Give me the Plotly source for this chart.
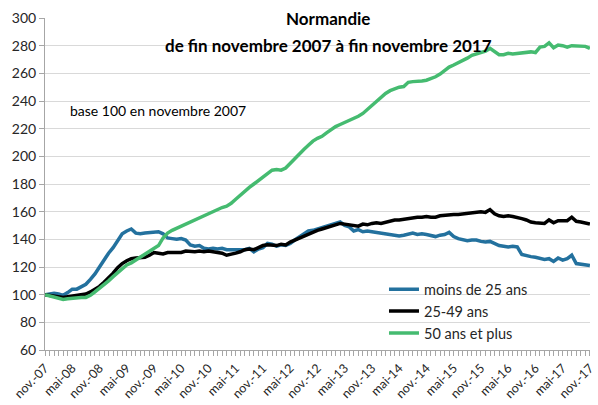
import plotly.graph_objects as go

MOIS = ["janv.", "févr.", "mars", "avr.", "mai", "juin", "juil.", "août", "sept.", "oct.", "nov.", "déc."]
months = []
for k in range(121):
    m = (10 + k) % 12
    y = 7 + (10 + k) // 12
    months.append(f"{MOIS[m]}-{y:02d}")

moins_25 = [100, 100.5, 101, 100.5, 99.5, 101.5, 104, 104, 105.5, 107.5,
            111, 115, 120, 125.5, 130, 134, 139, 144, 146, 147.5,
            144.5, 144, 144.5, 145, 145.5, 145.5, 144, 141, 140.5, 140,
            140.5, 139.5, 136, 135, 135.5, 133.5, 133, 133.5, 133, 133.5,
            132.5, 132.5, 133, 132.5, 132.5, 133.5, 131, 133, 134, 137,
            136.5, 135, 136, 135.5, 137, 139.5, 141.5, 143.5, 146, 146.5,
            147.5, 148.5, 149, 150, 151, 152.5, 150, 149, 146, 147,
            145.5, 146, 145.5, 145, 145, 144.5, 143.5, 143, 142.5, 143,
            143.5, 144.5, 143.5, 144, 143.5, 142.5, 142, 143, 143.5, 145,
            142, 140.5, 140, 139, 139.5, 139.5, 138.5, 138, 138.5, 137,
            135.5, 135, 134.5, 135, 134.5, 129, 128, 127.5, 127, 126.5,
            125.5, 126, 124, 126.5, 125, 126, 128.5, 122.5, 122, 121.5, 121]

ans_25_49 = [100, 99.5, 99, 98.5, 98, 98.5, 99, 99, 99.5, 100.5,
             102, 104, 106, 109, 112, 115.5, 119.5, 122.5, 124.5, 126,
             126.5, 127, 127, 128.5, 130.5, 130, 129.5, 130.5, 130.5, 131,
             130.5, 131.5, 131, 131, 131.5, 131, 131.5, 131, 131, 130,
             128.5, 129, 130, 131, 132.5, 133, 132.5, 134, 135.5, 136,
             135.5, 135.5, 136.5, 136, 138, 139.5, 141, 142.5, 144, 145,
             146.5, 147.5, 148.5, 149.5, 150.5, 151.5, 151, 150.5, 150, 149.5,
             151, 150.5, 151.5, 152, 151.5, 152.5, 153.5, 154, 154, 154.5,
             155.5, 155.5, 156, 156, 156.5, 156, 156, 157, 157.5, 157.5,
             158, 158, 158.5, 159, 159.5, 160, 160, 159.5, 161.5, 158.5,
             157, 156.5, 157, 156.5, 156, 155, 154, 152.5, 152, 152,
             151.5, 154, 152, 153.5, 153.5, 153.5, 156, 153, 152.5, 152, 151]

ans_50_plus = [100, 99, 98, 97, 96.5, 97, 97.5, 97.5, 98, 98,
               99.5, 102, 104.5, 107, 110, 113, 116, 119, 121.5, 123,
               125, 127, 129.5, 131.5, 133.5, 135.5, 141, 144.5, 146.5, 148,
               149.5, 151, 152.5, 154.5, 156, 157.5, 159, 160.5, 161.5, 163,
               164, 166, 169, 172, 175, 177.5, 180, 182.5, 185.5, 188,
               190, 190.5, 190, 191.5, 195, 198.5, 202, 205, 208, 211,
               213, 214.5, 217, 219.5, 221.5, 223, 224.5, 226, 227, 229,
               231, 234, 237, 240, 243, 245.5, 247.5, 249, 250, 250.5,
               253.5, 254, 254, 254.5, 255, 256, 257.5, 259.5, 262, 264.5,
               266, 267.5, 269, 271, 273, 274, 274.5, 276, 278, 275.5,
               273.5, 273.5, 274.5, 274, 274.5, 274.5, 275, 275.5, 275, 279,
               279.5, 282, 278.5, 280.5, 280, 279, 280, 280, 280, 279.5, 278]

series = [
    ("moins de 25 ans", moins_25, "#23719e"),
    ("25-49 ans", ans_25_49, "#000000"),
    ("50 ans et plus", ans_50_plus, "#45bb70"),
]

x_idx = list(range(len(months)))
tick_idx = x_idx[::6]
tick_txt = months[::6]

FONT = "Lato"
fig = go.Figure()
for name, vals, col in series:
    fig.add_trace(go.Scatter(x=x_idx, y=vals, mode="lines", name=name,
                             line=dict(color=col, width=3.5), cliponaxis=False))

fig.update_layout(
    width=598, height=405,
    margin=dict(l=45, r=8, t=18, b=55, autoexpand=False),
    paper_bgcolor="white", plot_bgcolor="white",
    font=dict(family=FONT, size=13, color="#262626"),
    showlegend=True,
    legend=dict(x=0.622, y=0.231, xanchor="left", yanchor="top",
                bgcolor="rgba(0,0,0,0)", font=dict(size=14.5, family=FONT, color="#262626"),
                tracegroupgap=0, itemwidth=30),
    xaxis=dict(range=[0, 120.02], tickmode="array", tickvals=tick_idx, ticktext=tick_txt,
               tickangle=-45, showgrid=False, showline=True, linecolor="#a6a6a6",
               ticks="outside", ticklen=5, tickcolor="#a6a6a6", zeroline=False,
               ticklabeloverflow="allow",
               tickfont=dict(size=12.5, family=FONT, color="#262626"), automargin=False,
               minor=dict(dtick=1, tick0=0, ticks="outside", ticklen=5, tickcolor="#a6a6a6", showgrid=False)),
    yaxis=dict(range=[60, 300], dtick=20, showgrid=True, gridcolor="#d9d9d9",
               showline=True, linecolor="#a6a6a6", ticks="outside", ticklen=5, automargin=False,
               tickcolor="#a6a6a6", zeroline=False, tickfont=dict(size=14, family=FONT, color="#262626")),
)

fig.add_annotation(x=0.52, y=1.0, xref="paper", yref="paper", xanchor="center", yanchor="middle",
                   text="<b>Normandie</b>", showarrow=False, font=dict(size=17, family=FONT, color="#000"))
fig.add_annotation(x=0.52, y=0.917, xref="paper", yref="paper", xanchor="center", yanchor="middle",
                   text="<b>de fin novembre 2007 à fin novembre 2017</b>", showarrow=False,
                   font=dict(size=17, family=FONT, color="#000"))
fig.add_annotation(x=0.042, y=0.722, xref="paper", yref="paper", xanchor="left", yanchor="middle",
                   text="base 100 en novembre 2007", showarrow=False,
                   font=dict(size=14, family=FONT, color="#000"))

fig.write_html("out.html", config={"displayModeBar": False},
               post_script="document.body.style.margin='0';document.body.style.overflow='hidden';")
